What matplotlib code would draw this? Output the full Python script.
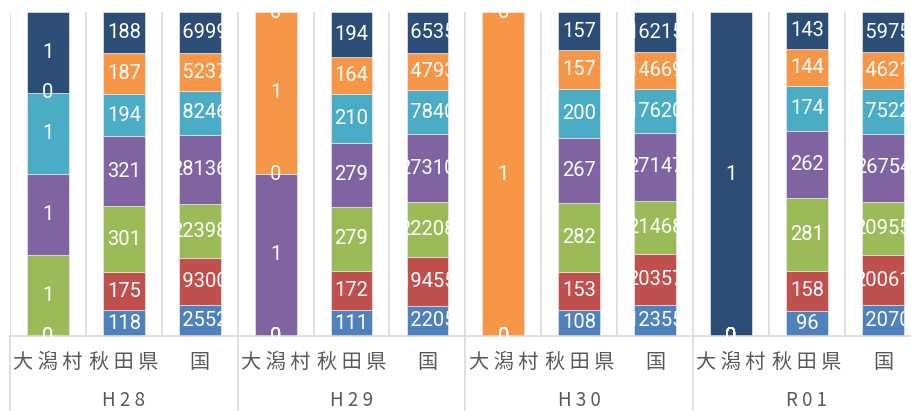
import numpy as np
import matplotlib
matplotlib.use("Agg")
import matplotlib.pyplot as plt
from matplotlib.patches import Rectangle
from matplotlib.lines import Line2D

plt.rcParams['font.family'] = ['Noto Sans CJK JP', 'DejaVu Sans']

# 年度と地域
years = ["H28", "H29", "H30", "R01"]
areas = ["大潟村", "秋田県", "国"]

# 各系列（下から順に積み上げ）: 地域 x 年度 の並び
s1 = [0, 118, 12552, 0, 111, 12205, 0, 108, 12355, 0, 96, 12070]
s2 = [0, 175, 19300, 0, 172, 19455, 0, 153, 20357, 0, 158, 20061]
s3 = [1, 301, 22398, 0, 279, 22208, 0, 282, 21468, 0, 281, 20955]
s4 = [1, 321, 28136, 1, 279, 27310, 0, 267, 27147, 0, 262, 26754]
s5 = [1, 194, 18246, 0, 210, 17840, 0, 200, 17620, 0, 174, 17522]
s6 = [0, 187, 15237, 1, 164, 14793, 1, 157, 14669, 0, 144, 14621]
s7 = [1, 188, 16999, 0, 194, 16535, 0, 157, 16215, 1, 143, 15975]

series = [s1, s2, s3, s4, s5, s6, s7]
colors = ["#4F81BD", "#C0504D", "#9BBB59", "#8064A2", "#4BACC6", "#F79646", "#2C4D75"]

data = np.array(series, dtype=float)
totals = data.sum(axis=0)
shares = data / totals

fig = plt.figure(figsize=(9.11, 4.11), dpi=100)
ax = fig.add_axes([10 / 911, 75 / 411, 910.8 / 911, 324 / 411])

x = np.arange(len(s1))
w = 0.55
bottom = np.zeros(len(s1))
for vals, sh, c in zip(series, shares, colors):
    ax.bar(x, sh, w, bottom=bottom, color=c, edgecolor="#e8e8e8", linewidth=0.5)
    for i in range(len(x)):
        t = ax.text(x[i], bottom[i] + sh[i] / 2, str(vals[i]), ha="center", va="center",
                    color="white", fontsize=14.5, family="Roboto")
        # 棒の幅で切り取る
        clip = Rectangle((x[i] - w / 2, 0), w, 1, transform=ax.transData)
        t.set_clip_path(clip)
    bottom += sh

ax.set_xlim(-0.5, len(x) - 0.5)
ax.set_ylim(0, 1)
ax.set_xticks([])
ax.set_yticks([])
for sp in ["top", "left", "right"]:
    ax.spines[sp].set_visible(False)
ax.spines["bottom"].set_color("#d9d9d9")
ax.spines["bottom"].set_linewidth(1.2)

# 区切り線
for b in np.arange(-0.5, len(x) + 0.5, 1):
    ax.axvline(b, color="#d9d9d9", linewidth=1.2, zorder=0)
trans = ax.get_xaxis_transform()
for b in np.arange(-0.5, len(x) + 0.5, 3):
    ax.add_line(Line2D([b, b], [-0.25, 0], transform=trans, color="#d9d9d9",
                       linewidth=1.2, clip_on=False))

# 軸ラベル
for i in range(len(x)):
    ax.text(x[i], -0.083, " ".join(areas[i % 3]), transform=trans, ha="center",
            va="center", fontsize=14.5, color="#595959")
for g, yr in enumerate(years):
    ax.text(g * 3 + 1, -0.198, " ".join(yr), transform=trans, ha="center",
            va="center", fontsize=13.5, color="#595959")

plt.savefig("out.png", dpi=100)
